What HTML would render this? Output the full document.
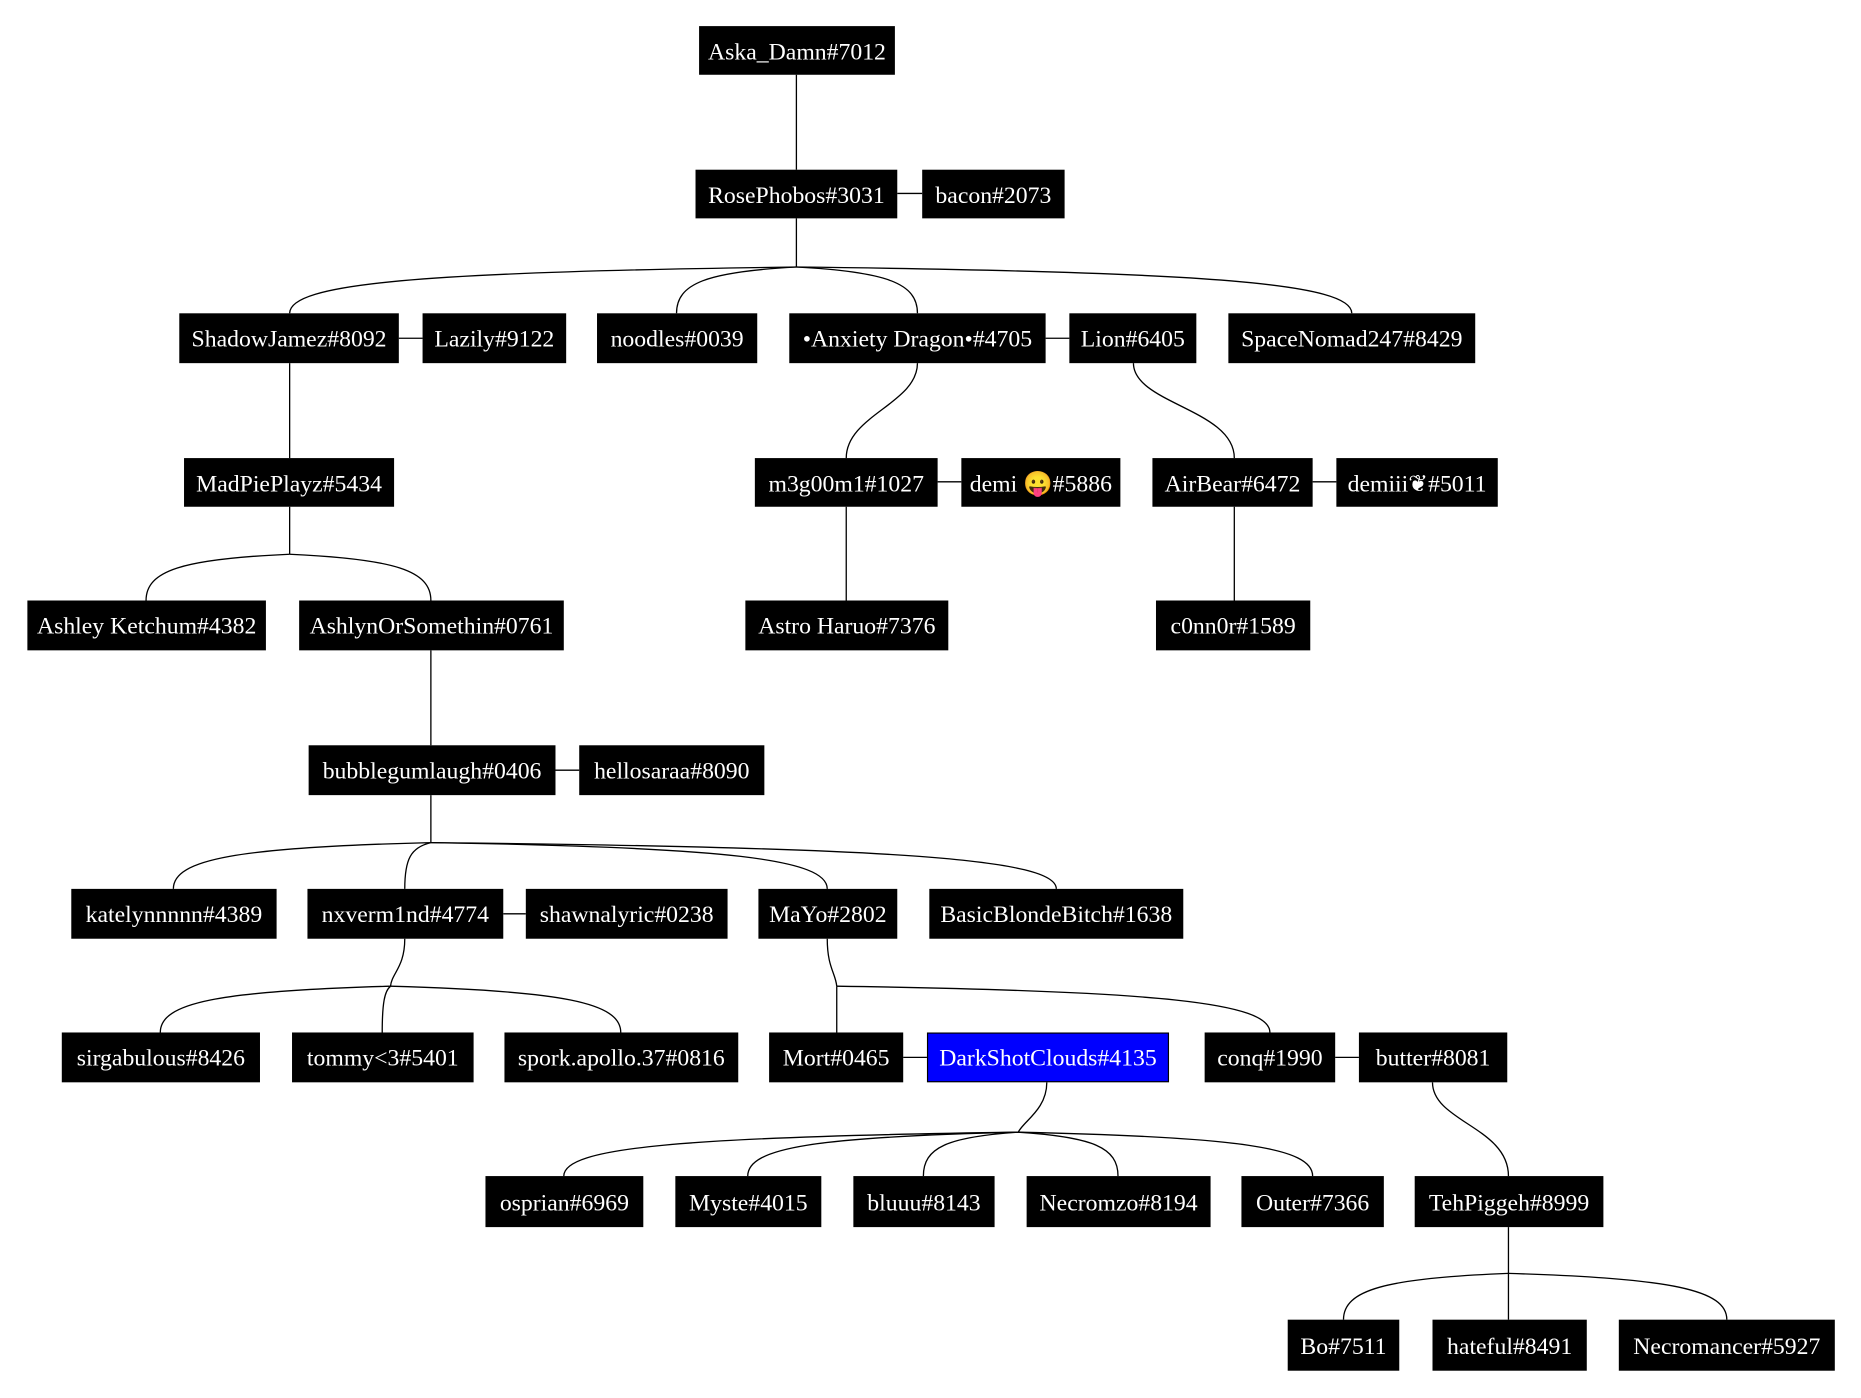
<!DOCTYPE html>
<html><head><meta charset="utf-8"><style>
html,body{margin:0;padding:0;background:#fff;}
svg{display:block}
text{font-family:"Liberation Serif","DejaVu Serif",serif;font-size:20px;fill:#fff;text-anchor:middle}
path,line{stroke:#000;stroke-width:1.1;fill:none}
rect{fill:#000}
</style></head><body>
<svg width="1861" height="1398" viewBox="0 0 1568 1178" xmlns="http://www.w3.org/2000/svg">
<!-- edges -->
<line x1="671" y1="63" x2="671" y2="143"/>
<line x1="756" y1="163" x2="777" y2="163"/>
<line x1="671" y1="184" x2="671" y2="225"/>
<path d="M671 225 C351 229 244 239 244 264"/>
<path d="M671 225 C595 229 570 239 570 264"/>
<path d="M671 225 C748 229 773 239 773 264"/>
<path d="M671 225 C1022 229 1139 239 1139 264"/>
<line x1="336" y1="285" x2="356" y2="285"/>
<line x1="881" y1="285" x2="901" y2="285"/>
<line x1="244" y1="306" x2="244" y2="386"/>
<path d="M773 306 C773 340 713 350 713 386"/>
<path d="M955 306 C955 340 1040 345 1040 386"/>
<line x1="790" y1="406" x2="810" y2="406"/>
<line x1="1106" y1="406" x2="1126" y2="406"/>
<line x1="713" y1="427" x2="713" y2="506"/>
<line x1="1040" y1="427" x2="1040" y2="506"/>
<line x1="244" y1="427" x2="244" y2="467"/>
<path d="M244 467 C153 471 123 481 123 506"/>
<path d="M244 467 C333 471 363 481 363 506"/>
<line x1="363" y1="548" x2="363" y2="628"/>
<line x1="468" y1="649" x2="488" y2="649"/>
<line x1="363" y1="670" x2="363" y2="710"/>
<path d="M363 710 C200 714 146 724 146 749"/>
<path d="M363 710 C346 714 341 724 341 749"/>
<path d="M363 710 C614 714 697 724 697 749"/>
<path d="M363 710 C758 714 890 724 890 749"/>
<line x1="424" y1="770" x2="443" y2="770"/>
<path d="M341 791 C341 815 330 820 329 831"/>
<path d="M329 831 C183 835 135 845 135 870"/>
<path d="M329 831 C324 835 322 845 322 870"/>
<path d="M329 831 C475 835 523 845 523 870"/>
<path d="M697 791 C697 815 704 820 705 831"/>
<line x1="705" y1="831" x2="705" y2="870"/>
<path d="M705 831 C979 835 1070 845 1070 870"/>
<line x1="761" y1="891" x2="781" y2="891"/>
<line x1="1125" y1="891" x2="1145" y2="891"/>
<path d="M882 912 C882 935 862 945 858 954"/>
<path d="M858 954 C571 958 475 967 475 991"/>
<path d="M858 954 C687 958 630 967 630 991"/>
<path d="M858 954 C798 958 778 967 778 991"/>
<path d="M858 954 C921 958 942 967 942 991"/>
<path d="M858 954 C1044 958 1106 967 1106 991"/>
<path d="M1207 912 C1207 945 1271 950 1271 991"/>
<line x1="1271" y1="1034" x2="1271" y2="1112"/>
<path d="M1271 1073 C1167 1077 1132 1087 1132 1112"/>
<path d="M1271 1073 C1409 1077 1455 1087 1455 1112"/>
<!-- nodes -->
<g>
<rect x="589" y="22" width="165" height="41"/><text x="671.5" y="50">Aska_Damn#7012</text>
<rect x="586" y="143" width="170" height="41"/><text x="671" y="171">RosePhobos#3031</text>
<rect x="777" y="143" width="120" height="41"/><text x="837" y="171">bacon#2073</text>

<rect x="151" y="264" width="185" height="42"/><text x="243.5" y="292">ShadowJamez#8092</text>
<rect x="356" y="264" width="121" height="42"/><text x="416.5" y="292">Lazily#9122</text>
<rect x="503" y="264" width="135" height="42"/><text x="570.5" y="292">noodles#0039</text>
<rect x="665" y="264" width="216" height="42"/><text x="773" y="292">•Anxiety Dragon•#4705</text>
<rect x="901" y="264" width="107" height="42"/><text x="954.5" y="292">Lion#6405</text>
<rect x="1035" y="264" width="208" height="42"/><text x="1139" y="292">SpaceNomad247#8429</text>

<rect x="155" y="386" width="177" height="41"/><text x="243.5" y="414">MadPiePlayz#5434</text>
<rect x="636" y="386" width="154" height="41"/><text x="713" y="414">m3g00m1#1027</text>
<rect x="810" y="386" width="134" height="41"/><text x="877" y="414">demi 😛#5886</text>
<rect x="971" y="386" width="135" height="41"/><text x="1038.5" y="414">AirBear#6472</text>
<rect x="1126" y="386" width="136" height="41"/><text x="1194" y="414">demiii❦#5011</text>

<rect x="23" y="506" width="201" height="42"/><text x="123.5" y="534">Ashley Ketchum#4382</text>
<rect x="252" y="506" width="223" height="42"/><text x="363.5" y="534">AshlynOrSomethin#0761</text>
<rect x="628" y="506" width="171" height="42"/><text x="713.5" y="534">Astro Haruo#7376</text>
<rect x="974" y="506" width="130" height="42"/><text x="1039" y="534">c0nn0r#1589</text>

<rect x="260" y="628" width="208" height="42"/><text x="364" y="656">bubblegumlaugh#0406</text>
<rect x="488" y="628" width="156" height="42"/><text x="566" y="656">hellosaraa#8090</text>

<rect x="60" y="749" width="173" height="42"/><text x="146.5" y="777">katelynnnnn#4389</text>
<rect x="259" y="749" width="165" height="42"/><text x="341.5" y="777">nxverm1nd#4774</text>
<rect x="443" y="749" width="170" height="42"/><text x="528" y="777">shawnalyric#0238</text>
<rect x="639" y="749" width="117" height="42"/><text x="697.5" y="777">MaYo#2802</text>
<rect x="783" y="749" width="214" height="42"/><text x="890" y="777">BasicBlondeBitch#1638</text>

<rect x="52" y="870" width="167" height="42"/><text x="135.5" y="898">sirgabulous#8426</text>
<rect x="246" y="870" width="153" height="42"/><text x="322.5" y="898">tommy&lt;3#5401</text>
<rect x="425" y="870" width="197" height="42"/><text x="523.5" y="898">spork.apollo.37#0816</text>
<rect x="648" y="870" width="113" height="42"/><text x="704.5" y="898">Mort#0465</text>
<rect x="781.5" y="870.5" width="203" height="41" style="fill:#0000ff;stroke:#000;stroke-width:1"/><text x="883" y="898">DarkShotClouds#4135</text>
<rect x="1015" y="870" width="110" height="42"/><text x="1070" y="898">conq#1990</text>
<rect x="1145" y="870" width="125" height="42"/><text x="1207.5" y="898">butter#8081</text>

<rect x="409" y="991" width="133" height="43"/><text x="475.5" y="1020">osprian#6969</text>
<rect x="569" y="991" width="123" height="43"/><text x="630.5" y="1020">Myste#4015</text>
<rect x="719" y="991" width="119" height="43"/><text x="778.5" y="1020">bluuu#8143</text>
<rect x="865" y="991" width="155" height="43"/><text x="942.5" y="1020">Necromzo#8194</text>
<rect x="1046" y="991" width="120" height="43"/><text x="1106" y="1020">Outer#7366</text>
<rect x="1192" y="991" width="159" height="43"/><text x="1271.5" y="1020">TehPiggeh#8999</text>

<rect x="1085" y="1112" width="94" height="43"/><text x="1132" y="1141">Bo#7511</text>
<rect x="1207" y="1112" width="130" height="43"/><text x="1272" y="1141">hateful#8491</text>
<rect x="1364" y="1112" width="182" height="43"/><text x="1455" y="1141">Necromancer#5927</text>
</g>
</svg>
</body></html>
